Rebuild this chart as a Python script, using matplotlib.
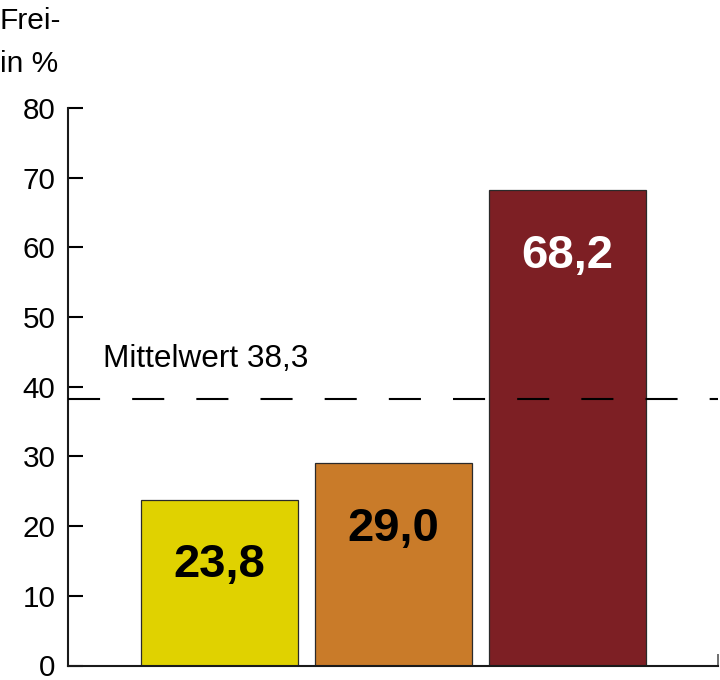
import matplotlib
matplotlib.use("Agg")
import matplotlib.pyplot as plt

plt.rcParams['font.family'] = ['Liberation Sans', 'DejaVu Sans']

# Data
categories = ["A", "B", "C"]
values = [23.8, 29.0, 68.2]
colors = ["#E0D200", "#C97B29", "#7D1F24"]
label_colors = ["black", "black", "white"]
mean_value = 38.3
y_ticks = [0, 10, 20, 30, 40, 50, 60, 70, 80]

fig = plt.figure(figsize=(7.2, 6.8), dpi=100)
ax = fig.add_axes([68 / 720, 14.5 / 680, 650 / 720, 557.5 / 680])

x = list(range(len(categories)))
ax.bar(x, values, width=0.902, color=colors, edgecolor="#2a2a2a", linewidth=0.9, zorder=2)

# Value labels inside the bars
for xi, v, lc in zip(x, values, label_colors):
    ax.annotate(f"{v:.1f}".replace(".", ","), xy=(xi, v), xytext=(0, -56),
                textcoords="offset points", ha="center", va="baseline",
                fontsize=34, fontweight="bold", color=lc, zorder=4)

# Mean line
ax.axhline(mean_value, color="black", linewidth=1.5, linestyle=(0, (15.4, 15.4)), zorder=3)
ax.annotate(f"Mittelwert {mean_value:.1f}".replace(".", ","), xy=(0.054, mean_value),
            xycoords=("axes fraction", "data"), xytext=(0, 22.8),
            textcoords="offset points", ha="left", va="baseline", fontsize=22.7)

ax.set_xlim(-0.8707, 2.865)
ax.set_ylim(0, 80)
ax.set_yticks(y_ticks)
ax.set_yticklabels([str(t) for t in y_ticks])
ax.tick_params(axis="y", direction="in", length=10.8, width=1.5, pad=9,
               labelsize=21.3, colors="black")
ax.set_xticks([2.865])
ax.set_xticklabels([""])
ax.tick_params(axis="x", direction="in", length=9, width=1.2, color="#555555")

for side in ("top", "right"):
    ax.spines[side].set_visible(False)
for side in ("left", "bottom"):
    ax.spines[side].set_linewidth(1.5)
    ax.spines[side].set_color("#1a1a1a")

fig.text(0.0, 1 - 29.3 / 680, "Frei-", ha="left", va="baseline", fontsize=21.5)
fig.text(0.0, 1 - 71.7 / 680, "in %", ha="left", va="baseline", fontsize=21.5)

fig.savefig("out.png", dpi=100)
